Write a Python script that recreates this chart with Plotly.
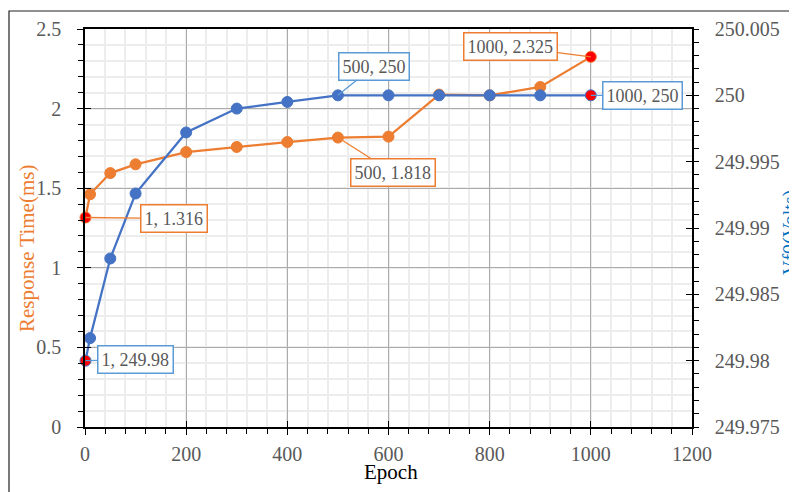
import plotly.graph_objects as go

# ---- data ----
epochs = [1, 10, 50, 100, 200, 300, 400, 500, 600, 700, 800, 900, 1000]
response_ms = [1.316, 1.462, 1.595, 1.650, 1.727, 1.759, 1.790, 1.818, 1.824, 2.088, 2.083, 2.136, 2.325]
vf0_volts = [249.98, 249.9817, 249.9877, 249.9926, 249.9972, 249.9990, 249.9995, 250, 250, 250, 250, 250, 250]

x_ticks = [0, 200, 400, 600, 800, 1000, 1200]
y_ticks = [0, 0.5, 1, 1.5, 2, 2.5]
y2_ticks = [249.975, 249.98, 249.985, 249.99, 249.995, 250, 250.005]
y2_labels = ["249.975", "249.98", "249.985", "249.99", "249.995", "250", "250.005"]

# callouts: (series, index, text, dx, dy)
callouts = [
    ("resp", 0, "1, 1.316", 88, 1),
    ("resp", 7, "500, 1.818", 55, 35),
    ("resp", 12, "1000, 2.325", -80, -10),
    ("vf0", 0, "1, 249.98", 50, -1),
    ("vf0", 7, "500, 250", 36, -29),
    ("vf0", 12, "1000, 250", 52, 0),
]

ORANGE = "#ED7D31"
BLUE = "#4472C4"
CALL_BLUE = "#5B9BD5"
TXT = "#595959"
FONT = "Liberation Serif"

W, H = 797, 492
OFF = 8  # page body margin offset of the figure in the window
PX0, PX1, PY0, PY1 = 85, 692, 29, 427  # plot area in window pixels
L, T = PX0 - OFF, PY0 - OFF
R = W + OFF - PX1
B = H + OFF - PY1
PW, PH = PX1 - PX0, PY1 - PY0


def px_x(p):
    return (p - PX0) / PW


def px_y(p):
    return (PY1 - p) / PH


def marker_colors(n, base):
    return ["red" if i in (0, n - 1) else base for i in range(n)]


fig = go.Figure()
n = len(epochs)
fig.add_trace(go.Scatter(
    x=epochs, y=response_ms, mode="lines+markers", name="Response Time",
    line=dict(color=ORANGE, width=2.25),
    marker=dict(size=11, color=marker_colors(n, ORANGE), line=dict(color=ORANGE, width=1)),
    xaxis="x", yaxis="y", cliponaxis=False,
))
fig.add_trace(go.Scatter(
    x=epochs, y=vf0_volts, mode="lines+markers", name="Vf0",
    line=dict(color=BLUE, width=2.25),
    marker=dict(size=11, color=marker_colors(n, BLUE), line=dict(color=BLUE, width=1)),
    xaxis="x", yaxis="y2", cliponaxis=False,
))
# invisible traces to host the inner-tick overlay axes
fig.add_trace(go.Scatter(x=[None], y=[None], xaxis="x2", yaxis="y3", showlegend=False, hoverinfo="skip"))
fig.add_trace(go.Scatter(x=[None], y=[None], xaxis="x2", yaxis="y4", showlegend=False, hoverinfo="skip"))

tickfont = dict(family=FONT, size=20, color=TXT)

fig.update_layout(
    width=W, height=H,
    margin=dict(l=L, r=R, t=T, b=B, autoexpand=False),
    paper_bgcolor="white", plot_bgcolor="white",
    showlegend=False,
    font=dict(family=FONT),
    xaxis=dict(
        range=[0, 1200], tickvals=x_ticks, tickfont=tickfont, automargin=False,
        showline=True, linecolor="black", linewidth=1.5, mirror=True,
        ticks="outside", ticklen=6, tickcolor="black", tickwidth=1.3,
        showgrid=True, gridcolor="#ABABAB", gridwidth=1.3,
        minor=dict(dtick=40, tick0=0, showgrid=True, gridcolor="#EDEDED", gridwidth=2,
                   ticks="outside", ticklen=5, tickcolor="black", tickwidth=1.2),
        zeroline=False, ticklabelstandoff=2,
    ),
    xaxis2=dict(
        range=[0, 1200], overlaying="x", anchor="y3", tickvals=x_ticks, automargin=False,
        showticklabels=False, ticks="inside", ticklen=6, tickcolor="black", tickwidth=1.3,
        showgrid=False, showline=False, zeroline=False,
    ),
    yaxis=dict(
        range=[0, 2.5], tickvals=y_ticks, tickfont=tickfont, automargin=False,
        showline=True, linecolor="black", linewidth=1.5,
        ticks="outside", ticklen=6, tickcolor="black", tickwidth=1.3,
        showgrid=True, gridcolor="#ABABAB", gridwidth=1.3,
        minor=dict(dtick=0.1, tick0=0, showgrid=True, gridcolor="#EDEDED", gridwidth=2,
                   ticks="outside", ticklen=5, tickcolor="black", tickwidth=1.2),
        zeroline=False, ticklabelstandoff=12,
    ),
    yaxis2=dict(
        range=[249.975, 250.005], overlaying="y", side="right", anchor="x", automargin=False,
        tickvals=y2_ticks, ticktext=y2_labels, tickfont=tickfont,
        showline=True, linecolor="black", linewidth=1.5,
        ticks="outside", ticklen=5, tickcolor="black", tickwidth=1.3,
        minor=dict(dtick=0.001, tick0=249.975, ticks="outside", ticklen=5,
                   tickcolor="black", tickwidth=1.2, showgrid=False),
        showgrid=False, zeroline=False, ticklabelstandoff=12,
    ),
    yaxis3=dict(
        range=[0, 2.5], overlaying="y", anchor="x2", side="left", tickvals=y_ticks, automargin=False,
        showticklabels=False, ticks="inside", ticklen=6, tickcolor="black", tickwidth=1.3,
        showgrid=False, showline=False, zeroline=False,
    ),
    yaxis4=dict(
        range=[249.975, 250.005], overlaying="y", anchor="x2", side="right", tickvals=y2_ticks,
        automargin=False,
        showticklabels=False, ticks="inside", ticklen=6, tickcolor="black", tickwidth=1.3,
        showgrid=False, showline=False, zeroline=False,
    ),
)

annotations = []
for series, idx, text, dx, dy in callouts:
    if series == "resp":
        yref, yv, col = "y", response_ms[idx], ORANGE
    else:
        yref, yv, col = "y2", vf0_volts[idx], CALL_BLUE
    annotations.append(dict(
        x=epochs[idx], y=yv, xref="x", yref=yref, text=text,
        showarrow=True, arrowhead=0, arrowwidth=1.3, arrowcolor=col,
        ax=dx, ay=dy, bgcolor="white", bordercolor=col, borderwidth=1.5, borderpad=3,
        font=dict(family=FONT, size=18, color=TXT),
    ))

# axis titles
annotations.append(dict(text="Response Time(ms)", xref="paper", yref="paper",
                        x=px_x(27), y=px_y(249), textangle=-90, showarrow=False,
                        xanchor="center", yanchor="middle",
                        font=dict(family=FONT, size=21, color=ORANGE)))
annotations.append(dict(text="Vf0(Volts)", xref="paper", yref="paper",
                        x=px_x(790), y=px_y(232), textangle=-90, showarrow=False,
                        xanchor="center", yanchor="middle",
                        font=dict(family=FONT, size=20, color="#0070C0")))
annotations.append(dict(text="Epoch", xref="paper", yref="paper",
                        x=px_x(391), y=px_y(472), showarrow=False,
                        xanchor="center", yanchor="middle",
                        font=dict(family=FONT, size=21, color="black")))
fig.update_layout(annotations=annotations)

# outer chart border (partially cropped in the original)
fig.add_shape(type="rect", xref="paper", yref="paper",
              x0=px_x(9), y0=px_y(600), x1=px_x(900), y1=px_y(11),
              line=dict(color="#222222", width=1.2), fillcolor="rgba(0,0,0,0)", layer="below")

fig.write_html("out.html")
